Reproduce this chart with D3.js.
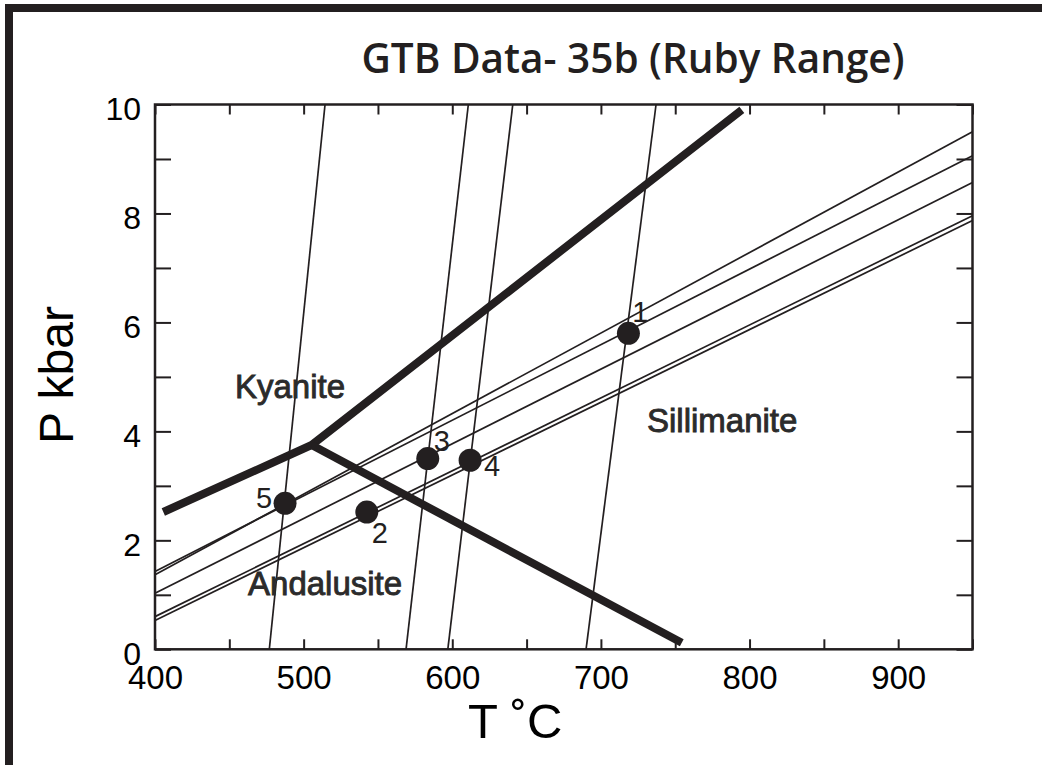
<!DOCTYPE html>
<html>
<head>
<meta charset="utf-8">
<script src="https://cdn.jsdelivr.net/npm/d3@7"></script>
<style>
  html, body { margin: 0; padding: 0; background: #fff; }
  svg { display: block; }
</style>
</head>
<body>
<script>
// ---------- DATA ----------
const xDomain = [400, 950];          // T °C
const yDomain = [0, 10];             // P kbar
const xTickValues = [400, 450, 500, 550, 600, 650, 700, 750, 800, 850, 900, 950];
const xTickLabels = ["400", "", "500", "", "600", "", "700", "", "800", "", "900", ""];
const yTickValues = [0, 1, 2, 3, 4, 5, 6, 7, 8, 9, 10];
const yTickLabels = ["0", "", "2", "", "4", "", "6", "", "8", "", "10"];

// Steep thin isopleths: T at P = 0 and T at P = 10
const steepT_P0  = [476.9, 568.9, 597.0, 690.0];
const steepT_P10 = [514.4, 610.8, 640.7, 737.1];

// Shallow thin isopleths: P at T = 400 and P at T = 950
const shallowP_T400 = [1.37, 1.43, 1.03, 0.60, 0.53];
const shallowP_T950 = [9.50, 9.06, 8.57, 7.96, 7.87];

// Aluminosilicate phase boundaries (thick)
const triplePoint  = [505.4, 3.75];
const kyAndEnd     = [405.6, 2.52];
const kySilEnd     = [794.8, 9.90];
const andSilEnd    = [754.4, 0.12];

// Samples
const sampleIds = ["1", "2", "3", "4", "5"];
const sampleT   = [718.5, 542.5, 583.5, 612.0, 487.5];
const sampleP   = [5.80, 2.52, 3.50, 3.47, 2.68];

// Field labels
const fieldNames = ["Kyanite", "Sillimanite", "Andalusite"];
const fieldT     = [453.8, 731.0, 462.6];
const fieldP     = [4.61, 3.99, 1.00];

const titleText = "GTB Data- 35b (Ruby Range)";
const xTitle = "T \u02DAC";
const yTitle = "P kbar";

// ---------- LAYOUT / STYLE ----------
const W = 1042, H = 765;
const ink = "#231f20";
const sampleLabelOffsets = [[12, -22], [13, 21], [14, -18], [22, 5], [-21, -6]];

const svg = d3.select("body").append("svg")
  .attr("width", W).attr("height", H);

// outer frame (left + top bars)
svg.append("rect").attr("x", 5).attr("y", 4).attr("width", W - 5).attr("height", 8).attr("fill", ink);
svg.append("rect").attr("x", 5).attr("y", 4).attr("width", 8).attr("height", H - 4).attr("fill", ink);

const x = d3.scaleLinear().domain(xDomain).range([155, 972.5]);
const y = d3.scaleLinear().domain(yDomain).range([649.3, 104.5]);

// title
svg.append("text")
  .attr("x", 633).attr("y", 73)
  .attr("text-anchor", "middle")
  .attr("font-family", "'Open Sans', sans-serif")
  .attr("font-size", 41)
  .attr("font-weight", 600)
  .attr("textLength", 543)
  .attr("lengthAdjust", "spacingAndGlyphs")
  .attr("fill", ink)
  .text(titleText);

const plot = svg.append("g");

// thin steep lines
plot.selectAll("line.steep")
  .data(d3.range(steepT_P0.length))
  .join("line")
  .attr("class", "steep")
  .attr("x1", i => x(steepT_P0[i])).attr("y1", y(0))
  .attr("x2", i => x(steepT_P10[i])).attr("y2", y(10))
  .attr("stroke", ink).attr("stroke-width", 1.7);

// thin shallow lines
plot.selectAll("line.shallow")
  .data(d3.range(shallowP_T400.length))
  .join("line")
  .attr("class", "shallow")
  .attr("x1", x(400)).attr("y1", i => y(shallowP_T400[i]))
  .attr("x2", x(950)).attr("y2", i => y(shallowP_T950[i]))
  .attr("stroke", ink).attr("stroke-width", 1.7);

// thick phase boundaries
const lineGen = d3.line().x(d => x(d[0])).y(d => y(d[1]));
plot.append("path")
  .attr("d", lineGen([kyAndEnd, triplePoint, kySilEnd]))
  .attr("fill", "none").attr("stroke", ink).attr("stroke-width", 8)
  .attr("stroke-linejoin", "miter").attr("stroke-linecap", "butt");
plot.append("path")
  .attr("d", lineGen([triplePoint, andSilEnd]))
  .attr("fill", "none").attr("stroke", ink).attr("stroke-width", 8)
  .attr("stroke-linecap", "butt");

// samples
plot.selectAll("circle.sample")
  .data(d3.range(sampleIds.length))
  .join("circle")
  .attr("class", "sample")
  .attr("cx", i => x(sampleT[i])).attr("cy", i => y(sampleP[i]))
  .attr("r", 11.5).attr("fill", ink);

plot.selectAll("text.sample")
  .data(d3.range(sampleIds.length))
  .join("text")
  .attr("class", "sample")
  .attr("x", i => x(sampleT[i]) + sampleLabelOffsets[i][0])
  .attr("y", i => y(sampleP[i]) + sampleLabelOffsets[i][1])
  .attr("dy", "0.36em")
  .attr("text-anchor", "middle")
  .attr("font-family", "'Liberation Sans', Arial, sans-serif")
  .attr("font-size", 29)
  .attr("fill", ink)
  .text(i => sampleIds[i]);

// field labels
plot.selectAll("text.field")
  .data(d3.range(fieldNames.length))
  .join("text")
  .attr("class", "field")
  .attr("x", i => x(fieldT[i])).attr("y", i => y(fieldP[i]))
  .attr("font-family", "'Liberation Sans', Arial, sans-serif")
  .attr("font-size", 33)
  .attr("fill", "#2b2b2b")
  .attr("stroke", "#2b2b2b").attr("stroke-width", 0.9)
  .text(i => fieldNames[i]);

// frame
svg.append("rect")
  .attr("x", x(400)).attr("y", y(10))
  .attr("width", x(950) - x(400)).attr("height", y(0) - y(10))
  .attr("fill", "none").attr("stroke", ink).attr("stroke-width", 2.5);

// axes
const fmtX = d => xTickLabels[xTickValues.indexOf(d)];
const fmtY = d => yTickLabels[yTickValues.indexOf(d)];

const gx = svg.append("g").attr("transform", `translate(0,${y(0)})`)
  .call(d3.axisBottom(x).tickValues(xTickValues).tickSize(-10).tickPadding(16).tickFormat(fmtX));
const gxt = svg.append("g").attr("transform", `translate(0,${y(10)})`)
  .call(d3.axisTop(x).tickValues(xTickValues).tickSize(-10).tickFormat(""));
const gy = svg.append("g").attr("transform", `translate(${x(400)},0)`)
  .call(d3.axisLeft(y).tickValues(yTickValues).tickSize(-16).tickPadding(14).tickFormat(fmtY));
const gyr = svg.append("g").attr("transform", `translate(${x(950)},0)`)
  .call(d3.axisRight(y).tickValues(yTickValues).tickSize(-16).tickFormat(""));

[gx, gxt, gy, gyr].forEach(g => {
  g.select(".domain").remove();
  g.selectAll(".tick line").attr("stroke", ink).attr("stroke-width", 2);
  g.selectAll(".tick text").attr("fill", "#000")
    .attr("font-family", "'Liberation Sans', Arial, sans-serif");
});
gx.selectAll(".tick text").attr("font-size", 33);
gy.selectAll(".tick text").attr("font-size", 32).attr("dy", "0.46em");

// axis titles
svg.append("text")
  .attr("x", 468).attr("y", 738)
  .attr("font-family", "'Liberation Sans', Arial, sans-serif")
  .attr("font-size", 49).attr("fill", "#000")
  .text(xTitle);

svg.append("text")
  .attr("transform", "translate(73,375) rotate(-90)")
  .attr("text-anchor", "middle")
  .attr("font-family", "'Liberation Sans', Arial, sans-serif")
  .attr("font-size", 48).attr("fill", "#000")
  .text(yTitle);
</script>
</body>
</html>
